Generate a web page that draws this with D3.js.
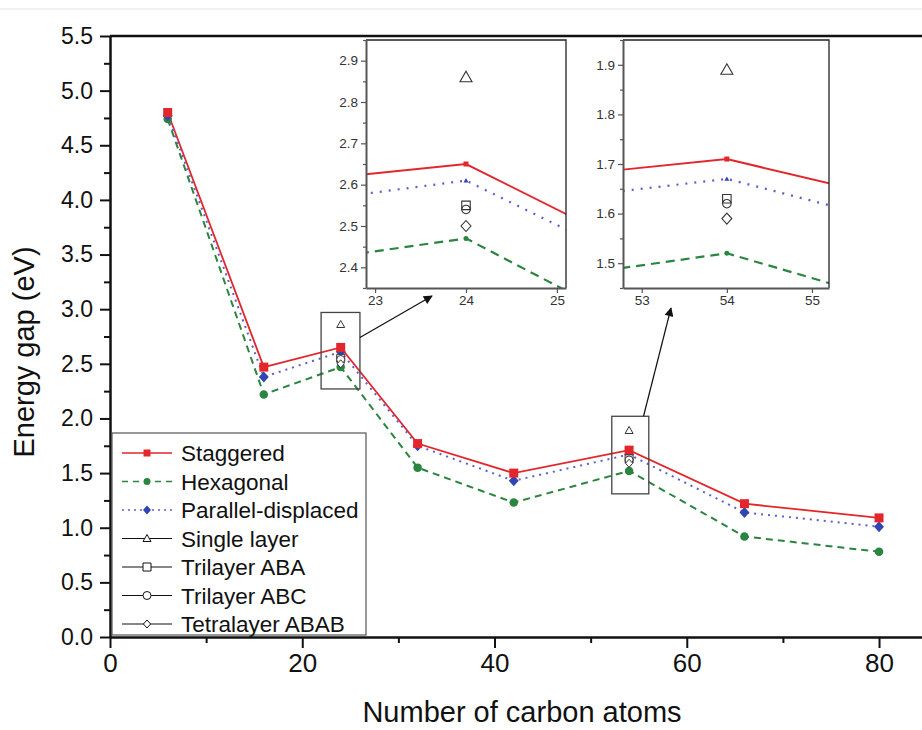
<!DOCTYPE html>
<html><head><meta charset="utf-8">
<script src="https://cdn.jsdelivr.net/npm/d3@7"></script>
<style>
html,body{margin:0;padding:0;background:#fff;}
svg{display:block;}
text{font-family:"Liberation Sans",Arial,sans-serif;fill:#111;}
.narrow{font-family:"Liberation Sans Narrow","Arial Narrow","Liberation Sans",sans-serif;}
</style></head>
<body>
<svg id="c" width="922" height="730"></svg>
<script>
// ---------- data ----------
const atoms = [6, 16, 24, 32, 42, 54, 66, 80];
const staggered = [4.80, 2.47, 2.65, 1.77, 1.50, 1.71, 1.22, 1.09];
const hexagonal = [4.74, 2.22, 2.47, 1.55, 1.23, 1.52, 0.92, 0.78];
const parallelDisplaced = [4.77, 2.38, 2.61, 1.75, 1.43, 1.67, 1.14, 1.01];
const layerAtoms = [24, 54];
const singleLayer = [2.86, 1.89];
const trilayerABA = [2.55, 1.63];
const trilayerABC = [2.54, 1.62];
const tetralayerABAB = [2.50, 1.59];
const yTicks = [0.0,0.5,1.0,1.5,2.0,2.5,3.0,3.5,4.0,4.5,5.0,5.5];
const xTicks = [0,20,40,60,80];
const legendLabels = ["Staggered","Hexagonal","Parallel-displaced","Single layer","Trilayer ABA","Trilayer ABC","Tetralayer ABAB"];
const inset1YTicks = [2.4,2.5,2.6,2.7,2.8,2.9];
const inset1XTicks = [23,24,25];
const inset2YTicks = [1.5,1.6,1.7,1.8,1.9];
const inset2XTicks = [53,54,55];

// ---------- styles ----------
const RED="#e3262b", GREEN="#2a8540", BLUE="#3246b2", BLUEL="#5a5fd0", OPEN="#333";

const svg = d3.select("#c");
svg.append("line").attr("x1",0).attr("x2",922).attr("y1",9).attr("y2",9).attr("stroke","#ececec").attr("stroke-width",1.5);

const x = d3.scaleLinear().domain([0,84.47]).range([110,922]);
const y = d3.scaleLinear().domain([0,5.5]).range([637,36]);

function shape(type, s){
  const h=s/2;
  if(type==="square") return `M${-h},${-h}H${h}V${h}H${-h}Z`;
  if(type==="circle"){const p=d3.path();p.moveTo(h,0);p.arc(0,0,h,0,2*Math.PI);p.closePath();return p.toString();}
  if(type==="diamond"){const w=h*0.9;return `M0,${-h}L${w},0L0,${h}L${-w},0Z`;}
  if(type==="triangle"){const w=h*1.0;return `M0,${-h}L${w},${h*0.75}L${-w},${h*0.75}Z`;}
}

const series = [
  {name:legendLabels[0], v:staggered, color:RED, dash:null, marker:"square", ms:9, mcol:RED, w:1.8},
  {name:legendLabels[1], v:hexagonal, color:GREEN, dash:"7,5", marker:"circle", ms:8.5, mcol:GREEN, w:2},
  {name:legendLabels[2], v:parallelDisplaced, color:BLUEL, dash:"2,5", marker:"diamond", ms:11, mcol:BLUE, w:2}
];
const openSeries = [
  {name:legendLabels[3], v:singleLayer, marker:"triangle"},
  {name:legendLabels[4], v:trilayerABA, marker:"square"},
  {name:legendLabels[5], v:trilayerABC, marker:"circle"},
  {name:legendLabels[6], v:tetralayerABAB, marker:"diamond"}
];

// ---------- main axes ----------
const gy = svg.append("g").attr("transform","translate(110,0)");
gy.call(d3.axisLeft(y).tickValues(d3.range(0.25,5.5,0.5)).tickSize(6).tickFormat("").tickSizeOuter(0));
gy.call(g=>g.select(".domain").remove());
const gy2 = svg.append("g").attr("transform","translate(110,0)");
gy2.call(d3.axisLeft(y).tickValues(yTicks).tickSize(10).tickPadding(7).tickFormat(d3.format(".1f")).tickSizeOuter(0));
svg.selectAll("g .tick line").attr("stroke","#111").attr("stroke-width",2);
gy2.selectAll("text").attr("font-size",23).style("fill","#111");
gy2.select(".domain").attr("stroke","#111").attr("stroke-width",2.5);

const gx = svg.append("g").attr("transform","translate(0,637)");
gx.call(d3.axisBottom(x).tickValues([10,30,50,70]).tickSize(6).tickFormat("").tickSizeOuter(0));
gx.call(g=>g.select(".domain").remove());
const gx2 = svg.append("g").attr("transform","translate(0,637)");
gx2.call(d3.axisBottom(x).tickValues(xTicks).tickSize(11).tickPadding(6).tickFormat(d3.format("d")).tickSizeOuter(0));
gx2.selectAll("text").attr("class","narrow").attr("font-size",26).style("fill","#111")
  .attr("transform",function(){return null;});
gx2.select(".domain").attr("stroke","#111").attr("stroke-width",2.5);
gx.selectAll(".tick line").attr("stroke","#111").attr("stroke-width",2);
gx2.selectAll(".tick line").attr("stroke","#111").attr("stroke-width",2);
// top border
svg.append("line").attr("x1",x(0)).attr("x2",922).attr("y1",y(5.5)).attr("y2",y(5.5)).attr("stroke","#111").attr("stroke-width",2.5);

svg.append("text").attr("transform","translate(34,352) rotate(-90)").attr("text-anchor","middle")
  .attr("font-size",29).text("Energy gap (eV)");
svg.append("text").attr("class","narrow").attr("x",522).attr("y",722).attr("text-anchor","middle")
  .attr("font-size",29).text("Number of carbon atoms");

// ---------- main series ----------
const line = d3.line().x((d,i)=>x(atoms[i])).y(d=>y(d));
series.forEach(s=>{
  svg.append("path").attr("d",line(s.v)).attr("fill","none").attr("stroke",s.color)
    .attr("stroke-width",s.w).attr("stroke-dasharray",s.dash);
});
[series[1],series[2],series[0]].forEach(s=>{
  svg.append("g").selectAll("path").data(s.v).join("path")
    .attr("transform",(d,i)=>`translate(${x(atoms[i])},${y(d)})`)
    .attr("d",shape(s.marker,s.ms)).attr("fill",s.mcol);
});
openSeries.forEach(s=>{
  svg.append("g").selectAll("path").data(s.v).join("path")
    .attr("transform",(d,i)=>`translate(${x(layerAtoms[i])},${y(d)})`)
    .attr("d",shape(s.marker,8)).attr("fill","#fff").attr("stroke",OPEN).attr("stroke-width",1);
});

// ---------- zoom boxes & arrows ----------
const boxes = [{x0:21.96,x1:26.0,y0:2.27,y1:2.97},{x0:52.2,x1:56.05,y0:1.31,y1:2.02}];
boxes.forEach(b=>{
  svg.append("rect").attr("x",x(b.x0)).attr("y",y(b.y1)).attr("width",x(b.x1)-x(b.x0)).attr("height",y(b.y0)-y(b.y1))
    .attr("fill","none").attr("stroke","#444").attr("stroke-width",1.3);
});
svg.append("defs").append("marker").attr("id","ah").attr("viewBox","0 0 10 10").attr("refX",9).attr("refY",5)
  .attr("markerWidth",13).attr("markerHeight",9).attr("markerUnits","userSpaceOnUse").attr("orient","auto")
  .append("path").attr("d","M0,0L10,5L0,10Z").attr("fill","#111");
svg.append("line").attr("x1",x(boxes[0].x1)).attr("y1",y(2.74)).attr("x2",432).attr("y2",296)
  .attr("stroke","#111").attr("stroke-width",1.2).attr("marker-end","url(#ah)");
svg.append("line").attr("x1",x(55.5)).attr("y1",y(boxes[1].y1)).attr("x2",671).attr("y2",308)
  .attr("stroke","#111").attr("stroke-width",1.2).attr("marker-end","url(#ah)");

// ---------- legend ----------
const lg = svg.append("g");
lg.append("rect").attr("x",112).attr("y",433).attr("width",254).attr("height",202).attr("fill","#fff").attr("stroke","#555").attr("stroke-width",1.2);
const allLeg = series.map(s=>({name:s.name,color:s.color,dash:s.dash,marker:s.marker,mcol:s.mcol,open:false,w:s.w}))
  .concat(openSeries.map(s=>({name:s.name,color:"#111",dash:null,marker:s.marker,open:true,w:1.5})));
allLeg.forEach((d,i)=>{
  const yy = 453 + i*28.5;
  lg.append("line").attr("x1",122).attr("x2",172).attr("y1",yy).attr("y2",yy).attr("stroke",d.color)
    .attr("stroke-width",d.w*0.8).attr("stroke-dasharray",d.dash?(d.dash==="7,5"?"6,5":"2,4"):null);
  lg.append("path").attr("transform",`translate(147,${yy})`).attr("d",shape(d.marker,d.open?8:(d.marker==="diamond"?9:7)))
    .attr("fill",d.open?"#fff":d.mcol).attr("stroke",d.open?"#111":"none").attr("stroke-width",1);
  lg.append("text").attr("x",181).attr("y",yy).attr("dy","0.36em").attr("font-size",22.5).text(d.name);
});

// ---------- insets ----------
function inset(id, px0, px1, py0, py1, xd, yd, yt, xt){
  const g = svg.append("g");
  const xi = d3.scaleLinear().domain(xd).range([px0,px1]);
  const yi = d3.scaleLinear().domain(yd).range([py1,py0]);
  g.append("rect").attr("x",px0).attr("y",py0).attr("width",px1-px0).attr("height",py1-py0).attr("fill","#fff");
  g.append("clipPath").attr("id",id).append("rect").attr("x",px0).attr("y",py0).attr("width",px1-px0).attr("height",py1-py0);
  const cg = g.append("g").attr("clip-path",`url(#${id})`);
  const li = d3.line().x((d,i)=>xi(atoms[i])).y(d=>yi(d));
  series.forEach(s=>{
    cg.append("path").attr("d",li(s.v)).attr("fill","none").attr("stroke",s.color)
      .attr("stroke-width",s.w*1.1).attr("stroke-dasharray",s.dash?(s.dash==="7,5"?"9,6":"2,7"):null);
  });
  const imarker = {square:"square", circle:"circle", diamond:"triangle"};
  series.forEach(s=>{
    cg.append("g").selectAll("path").data(s.v).join("path")
      .attr("transform",(d,i)=>`translate(${xi(atoms[i])},${yi(d)})`)
      .attr("d",shape(imarker[s.marker],5)).attr("fill",s.mcol);
  });
  const osz = {triangle:12, square:8.5, circle:8.5, diamond:11};
  openSeries.forEach(s=>{
    cg.append("g").selectAll("path").data(s.v).join("path")
      .attr("transform",(d,i)=>`translate(${xi(layerAtoms[i])},${yi(d)})`)
      .attr("d",shape(s.marker,osz[s.marker])).attr("fill","none").attr("stroke",OPEN).attr("stroke-width",1.1);
  });
  g.append("path").attr("d",`M${px0},${py0}H${px1}V${py1}`).attr("fill","none").attr("stroke","#222").attr("stroke-width",1.3);
  const ay = g.append("g").attr("transform",`translate(${px0},0)`);
  const minor = d3.range(yd[0],yd[1]+1e-9,0.05).filter(v=>Math.abs(Math.round(v*10)-v*10)>0.2);
  ay.append("g").call(d3.axisLeft(yi).tickValues(minor).tickSize(3).tickFormat("").tickSizeOuter(0)).call(a=>a.select(".domain").remove());
  ay.append("g").call(d3.axisLeft(yi).tickValues(yt).tickSize(5).tickPadding(3).tickFormat(d3.format(".1f")).tickSizeOuter(0));
  const ax = g.append("g").attr("transform",`translate(0,${py1})`);
  ax.call(d3.axisBottom(xi).tickValues(xt).tickSize(5).tickPadding(2).tickFormat(d3.format("d")).tickSizeOuter(0));
  [ay,ax].forEach(a=>{
    a.selectAll(".domain").attr("stroke","#555").attr("stroke-width",2);
    a.selectAll(".tick line").attr("stroke","#555").attr("stroke-width",1.2);
    a.selectAll("text").attr("font-size",13.5).style("fill","#333");
  });
}
inset("clip1", 366, 566, 40, 288, [22.9,25.1], [2.35,2.95], inset1YTicks, inset1XTicks);
inset("clip2", 623, 829, 40, 288, [52.78,55.2], [1.45,1.95], inset2YTicks, inset2XTicks);
</script>
</body></html>
